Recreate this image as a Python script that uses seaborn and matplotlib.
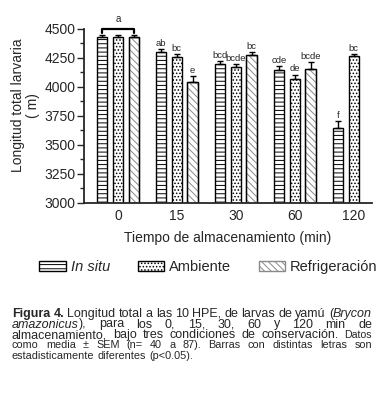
import matplotlib
matplotlib.use("Agg")
import matplotlib.pyplot as plt
from matplotlib.patches import Rectangle
from matplotlib.ticker import MultipleLocator
import seaborn as sns
import pandas as pd

tiempos = ["0", "15", "30", "60", "120"]
condiciones = ["In situ", "Ambiente", "Refrigeración"]

# media y SEM por condición (None = sin dato a los 120 min)
media_in_situ = [4428, 4300, 4200, 4148, 3645]
media_ambiente = [4428, 4262, 4173, 4072, 4267]
media_refrig = [4428, 4043, 4276, 4156, None]

sem_in_situ = [18, 25, 25, 33, 60]
sem_ambiente = [18, 22, 25, 33, 17]
sem_refrig = [18, 50, 22, 60, None]

letras_in_situ = ["", "ab", "bcd", "cde", "f"]
letras_ambiente = ["", "bc", "bcde", "de", "bc"]
letras_refrig = ["", "e", "bc", "bcde", ""]

medias = [media_in_situ, media_ambiente, media_refrig]
sems = [sem_in_situ, sem_ambiente, sem_refrig]
letras = [letras_in_situ, letras_ambiente, letras_refrig]
tramas = ["----", ".....", "\\\\\\\\\\"]
color_trama = ["black", "black", "#8a8a8a"]

filas = []
for cond, valores in zip(condiciones, medias):
    for t, v in zip(tiempos, valores):
        if v is not None:
            filas.append({"tiempo": t, "condicion": cond, "longitud": v})
df = pd.DataFrame(filas)

sns.set_style("ticks")
plt.rcParams["font.family"] = ["Liberation Sans", "DejaVu Sans"]
plt.rcParams["hatch.linewidth"] = 0.7

fig = plt.figure(figsize=(3.86, 3.94), dpi=100)
ax = fig.add_axes([0.2176, 0.4848, 0.746, 0.4416])

sns.barplot(data=df, x="tiempo", y="longitud", hue="condicion",
            order=tiempos, hue_order=condiciones,
            palette={c: "white" for c in condiciones},
            edgecolor="black", linewidth=1, errorbar=None,
            width=0.8, gap=0.35, legend=False, ax=ax)

barras = list(ax.containers)
for i, cont in enumerate(barras):
    valores_sem = [s for s in sems[i] if s is not None]
    valores_let = [l for l, m in zip(letras[i], medias[i]) if m is not None]
    for p, s, l in zip(cont.patches, valores_sem, valores_let):
        p.set_hatch(tramas[i])
        p.set_edgecolor(color_trama[i])
        if color_trama[i] != "black":
            ax.add_patch(Rectangle(p.get_xy(), p.get_width(), p.get_height(),
                                   fill=False, edgecolor="black", linewidth=1, zorder=p.get_zorder()))
        x = p.get_x() + p.get_width() / 2
        top = p.get_height()
        ax.errorbar([x], [top], yerr=[[0], [s]], fmt="none", ecolor="black",
                    elinewidth=1, capsize=2.3, capthick=1)
        if l:
            ax.text(x, top + s + 12, l, ha="center", va="bottom", fontsize=6.8)

# corchete "a" sobre el grupo 0
p0 = barras[0].patches[0]
p2 = barras[2].patches[0]
xa = p0.get_x() + p0.get_width() / 2
xb = p2.get_x() + p2.get_width() / 2
ax.plot([xa, xa, xb, xb], [4468, 4500, 4500, 4468], color="black", lw=1.6, clip_on=False)
ax.text((xa + xb) / 2, 4545, "a", ha="center", va="bottom", fontsize=7)

ax.set_ylim(3000, 4500)
ax.yaxis.set_major_locator(MultipleLocator(250))
ax.yaxis.set_minor_locator(MultipleLocator(125))
ax.tick_params(axis="y", which="major", length=5, width=1, labelsize=10, pad=1)
ax.tick_params(axis="y", which="minor", length=3, width=1)
ax.tick_params(axis="x", length=0, labelsize=10, pad=4)
sns.despine(ax=ax)
for sp in ["left", "bottom"]:
    ax.spines[sp].set_linewidth(1.3)
ax.set_ylabel("")
ax.set_xlabel("Tiempo de almacenamiento (min)", fontsize=10, labelpad=6)

fig.text(0.066, 0.733, "Longitud total larvaria\n( m)", rotation=90,
         ha="center", va="center", multialignment="center", fontsize=10, linespacing=1.15)

handles = [c.patches[0] for c in barras]
leg = fig.legend(handles, condiciones, loc="center", bbox_to_anchor=(0.54, 1 - 267 / 394),
                 ncol=3, frameon=False, fontsize=10.5, handlelength=1.8, handleheight=0.65,
                 handletextpad=0.35, columnspacing=1.9)
leg.get_texts()[0].set_style("italic")

# leyenda de la figura, justificada
W, H = 386, 394
renderer = fig.canvas.get_renderer()


def linea(y_px, palabras, justificar=True, x0=12, x1=372):
    textos = []
    for palabra in palabras:
        textos.append([fig.text(0, 1 - y_px / H, texto, ha="left", va="baseline", **props)
                       for texto, props in palabra])
    while True:
        anchos = [[t.get_window_extent(renderer).width for t in partes] for partes in textos]
        total = sum(sum(a) for a in anchos)
        if justificar and len(textos) > 1:
            hueco = (x1 - x0 - total) / (len(textos) - 1)
        else:
            hueco = 0.28 * textos[0][0].get_fontsize() * 100 / 72
        if hueco >= 1.5:
            break
        for partes in textos:
            for t in partes:
                t.set_fontsize(t.get_fontsize() - 0.1)
    x = x0
    for partes, a in zip(textos, anchos):
        for t, w in zip(partes, a):
            t.set_x(x / W)
            x += w
        x += hueco


g = dict(fontsize=9)
gb = dict(fontsize=9, fontweight="bold")
gi = dict(fontsize=9, style="italic")
pq = dict(fontsize=7.6)
pq2 = dict(fontsize=7.8)

linea(317, [[("Figura", gb)], [("4.", gb)]]
      + [[(w, g)] for w in "Longitud total a las 10 HPE, de larvas de yamú".split()]
      + [[("(", g), ("Brycon", gi)]])
linea(327.5, [[("amazonicus", gi), ("),", g)]]
      + [[(w, g)] for w in "para los 0, 15, 30, 60 y 120 min de".split()])
linea(338, [[(w, g)] for w in "almacenamiento, bajo tres condiciones de conservación.".split()]
      + [[("Datos", pq)]])
linea(348.5, [[(w, pq2)] for w in "como media ± SEM (n= 40 a 87). Barras con distintas letras son".split()])
linea(359, [[(w, pq2)] for w in "estadisticamente diferentes (p<0.05).".split()], justificar=False)

fig.savefig("out.png", dpi=100)
